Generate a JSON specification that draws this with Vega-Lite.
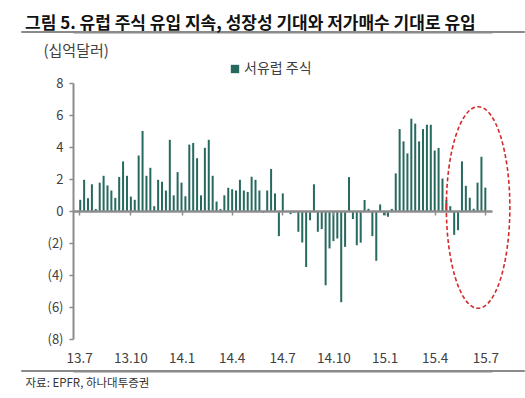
{
  "$schema": "https://vega.github.io/schema/vega-lite/v6.json",
  "autosize": "none",
  "width": 419,
  "height": 256,
  "padding": {"left": 73, "top": 83, "right": 33, "bottom": 59},
  "background": "white",
  "config": {
    "view": {"stroke": null},
    "font": "Noto Sans CJK KR",
    "axisY": {
      "tickCount": 8,
      "labelExpr": "datum.value < 0 ? '(' + abs(datum.value) + ')' : '' + datum.value",
      "labelOverlap": false,
      "grid": false,
      "domainColor": "#8c8c8c",
      "domainWidth": 2,
      "tickColor": "#8c8c8c",
      "tickSize": 4,
      "tickWidth": 1.5,
      "labelFontSize": 13,
      "labelColor": "#404040",
      "labelPadding": 6,
      "labelFont": "Noto Sans CJK KR",
      "titleAngle": 0,
      "titleX": -30,
      "titleY": -28,
      "titleAlign": "left",
      "titleBaseline": "alphabetic",
      "titleFontSize": 15,
      "titleFontWeight": "normal",
      "titleColor": "#404040",
      "titleFont": "Noto Sans CJK KR"
    }
  },
  "title": {
    "text": "그림 5. 유럽 주식 유입 지속, 성장성 기대와 저가매수 기대로 유입",
    "anchor": "start",
    "frame": "group",
    "dx": -48,
    "dy": 19,
    "offset": 4,
    "baseline": "alphabetic",
    "fontSize": 17,
    "fontWeight": "bold",
    "color": "#111111",
    "font": "Noto Sans CJK KR"
  },
  "resolve": {"axis": {"x": "independent"}},
  "layer": [
    {
      "data": {
        "values": [
          {"date": "2013-07-03", "value": 0.7},
          {"date": "2013-07-10", "value": 1.95},
          {"date": "2013-07-17", "value": 0.8},
          {"date": "2013-07-24", "value": 1.67},
          {"date": "2013-07-31", "value": 0.12},
          {"date": "2013-08-07", "value": 1.77},
          {"date": "2013-08-14", "value": 2.2},
          {"date": "2013-08-21", "value": 1.6},
          {"date": "2013-08-28", "value": 1.28},
          {"date": "2013-09-04", "value": 0.82},
          {"date": "2013-09-11", "value": 2.13},
          {"date": "2013-09-18", "value": 3.1},
          {"date": "2013-09-25", "value": 2.2},
          {"date": "2013-10-02", "value": 0.9},
          {"date": "2013-10-09", "value": 0.7},
          {"date": "2013-10-16", "value": 3.47},
          {"date": "2013-10-23", "value": 5.0},
          {"date": "2013-10-30", "value": 2.2},
          {"date": "2013-11-06", "value": 2.7},
          {"date": "2013-11-13", "value": 0.3},
          {"date": "2013-11-20", "value": 1.95},
          {"date": "2013-11-27", "value": 1.83},
          {"date": "2013-12-04", "value": 1.28},
          {"date": "2013-12-11", "value": 4.45},
          {"date": "2013-12-18", "value": 0.98},
          {"date": "2013-12-25", "value": 2.43},
          {"date": "2014-01-01", "value": 1.77},
          {"date": "2014-01-08", "value": 0.92},
          {"date": "2014-01-15", "value": 4.15},
          {"date": "2014-01-22", "value": 4.25},
          {"date": "2014-01-29", "value": 3.3},
          {"date": "2014-02-05", "value": 0.98},
          {"date": "2014-02-12", "value": 3.95},
          {"date": "2014-02-19", "value": 4.45},
          {"date": "2014-02-26", "value": 2.2},
          {"date": "2014-03-05", "value": 0.59},
          {"date": "2014-03-12", "value": 0.12},
          {"date": "2014-03-19", "value": 0.98},
          {"date": "2014-03-26", "value": 1.45},
          {"date": "2014-04-02", "value": 1.36},
          {"date": "2014-04-09", "value": 1.28},
          {"date": "2014-04-16", "value": 1.95},
          {"date": "2014-04-23", "value": 1.28},
          {"date": "2014-04-30", "value": 1.19},
          {"date": "2014-05-07", "value": 2.14},
          {"date": "2014-05-14", "value": 1.95},
          {"date": "2014-05-21", "value": 1.28},
          {"date": "2014-05-28", "value": -0.1},
          {"date": "2014-06-04", "value": 1.28},
          {"date": "2014-06-11", "value": 2.63},
          {"date": "2014-06-18", "value": 1.1},
          {"date": "2014-06-25", "value": -1.57},
          {"date": "2014-07-02", "value": 1.1},
          {"date": "2014-07-09", "value": -0.05},
          {"date": "2014-07-16", "value": -0.2},
          {"date": "2014-07-23", "value": -0.1},
          {"date": "2014-07-30", "value": -1.3},
          {"date": "2014-08-06", "value": -1.97},
          {"date": "2014-08-13", "value": -3.5},
          {"date": "2014-08-20", "value": -0.58},
          {"date": "2014-08-27", "value": 1.67},
          {"date": "2014-09-03", "value": -1.3},
          {"date": "2014-09-10", "value": -1.13},
          {"date": "2014-09-17", "value": -4.64},
          {"date": "2014-09-24", "value": -2.34},
          {"date": "2014-10-01", "value": -1.88},
          {"date": "2014-10-08", "value": -1.72},
          {"date": "2014-10-15", "value": -5.7},
          {"date": "2014-10-22", "value": -2.24},
          {"date": "2014-10-29", "value": 2.12},
          {"date": "2014-11-05", "value": -0.5},
          {"date": "2014-11-12", "value": -2.14},
          {"date": "2014-11-19", "value": -1.98},
          {"date": "2014-11-26", "value": 0.69},
          {"date": "2014-12-03", "value": 0.14},
          {"date": "2014-12-10", "value": -1.57},
          {"date": "2014-12-17", "value": -3.11},
          {"date": "2014-12-24", "value": 0.41},
          {"date": "2014-12-31", "value": -0.27},
          {"date": "2015-01-07", "value": -0.36},
          {"date": "2015-01-14", "value": 0.13},
          {"date": "2015-01-21", "value": 2.35},
          {"date": "2015-01-28", "value": 5.12},
          {"date": "2015-02-04", "value": 4.35},
          {"date": "2015-02-11", "value": 3.6},
          {"date": "2015-02-18", "value": 5.77},
          {"date": "2015-02-25", "value": 5.46},
          {"date": "2015-03-04", "value": 4.35},
          {"date": "2015-03-11", "value": 5.12},
          {"date": "2015-03-18", "value": 5.39},
          {"date": "2015-03-25", "value": 5.39},
          {"date": "2015-04-01", "value": 3.78},
          {"date": "2015-04-08", "value": 3.94},
          {"date": "2015-04-15", "value": 2.03},
          {"date": "2015-04-22", "value": 0.69},
          {"date": "2015-04-29", "value": 0.3},
          {"date": "2015-05-06", "value": -1.49},
          {"date": "2015-05-13", "value": -1.2},
          {"date": "2015-05-20", "value": 3.1},
          {"date": "2015-05-27", "value": 1.57},
          {"date": "2015-06-03", "value": 0.83},
          {"date": "2015-06-10", "value": 0.14},
          {"date": "2015-06-17", "value": 1.77},
          {"date": "2015-06-24", "value": 3.39},
          {"date": "2015-07-01", "value": 1.46}
        ]
      },
      "mark": {"type": "bar", "width": 2},
      "encoding": {
        "x": {
          "field": "date",
          "type": "temporal",
          "scale": {"domain": [{"year": 2013, "month": 6, "date": 29}, {"year": 2015, "month": 7, "date": 4}]},
          "axis": {
            "orient": "bottom",
            "offset": -128,
            "labels": false,
            "title": null,
            "grid": false,
            "domain": true,
            "domainColor": "#8c8c8c",
            "domainWidth": 2.5,
            "ticks": true,
            "tickColor": "#8c8c8c",
            "tickSize": 4,
            "tickWidth": 1.5,
            "zindex": 1,
            "values": [
              {"year": 2013, "month": 7, "date": 1},
              {"year": 2013, "month": 10, "date": 1},
              {"year": 2014, "month": 1, "date": 1},
              {"year": 2014, "month": 4, "date": 1},
              {"year": 2014, "month": 7, "date": 1},
              {"year": 2014, "month": 10, "date": 1},
              {"year": 2015, "month": 1, "date": 1},
              {"year": 2015, "month": 4, "date": 1},
              {"year": 2015, "month": 7, "date": 1}
            ]
          }
        },
        "y": {
          "field": "value",
          "type": "quantitative",
          "title": "(십억달러)",
          "scale": {"domain": [-8, 8], "nice": false, "zero": false}
        },
        "color": {
          "datum": "서유럽 주식",
          "type": "nominal",
          "scale": {"range": ["#26695e"]},
          "legend": {
            "orient": "none",
            "legendX": 155,
            "legendY": -21,
            "title": null,
            "symbolType": "square",
            "symbolSize": 70,
            "symbolStrokeWidth": 0,
            "labelFontSize": 14,
            "labelColor": "#404040",
            "labelOffset": 2,
            "labelFont": "Noto Sans CJK KR"
          }
        }
      }
    },
    {
      "data": {"values": [{}]},
      "mark": {
        "type": "point",
        "shape": "M -0.315 0 A 0.315 1 0 1 1 0.315 0 A 0.315 1 0 1 1 -0.315 0 Z",
        "size": 40643,
        "filled": false,
        "stroke": "#d42a2a",
        "strokeWidth": 1.6,
        "strokeDash": [4, 2.5],
        "opacity": 1
      },
      "encoding": {
        "x": {
          "datum": {"year": 2015, "month": 6, "date": 18},
          "type": "temporal",
          "axis": {
            "orient": "bottom",
            "domain": false,
            "ticks": false,
            "grid": false,
            "labels": true,
            "labelPadding": 12,
            "labelFontSize": 13.5,
            "labelColor": "#404040",
            "labelFont": "Noto Sans CJK KR",
            "format": "%y.%-m",
            "values": [
              {"year": 2013, "month": 7, "date": 1},
              {"year": 2013, "month": 10, "date": 1},
              {"year": 2014, "month": 1, "date": 1},
              {"year": 2014, "month": 4, "date": 1},
              {"year": 2014, "month": 7, "date": 1},
              {"year": 2014, "month": 10, "date": 1},
              {"year": 2015, "month": 1, "date": 1},
              {"year": 2015, "month": 4, "date": 1},
              {"year": 2015, "month": 7, "date": 1}
            ],
            "title": "자료: EPFR, 하나대투증권",
            "titleX": -48,
            "titleY": 47,
            "titleAnchor": "start",
            "titleAlign": "left",
            "titleBaseline": "alphabetic",
            "titleFontSize": 11.5,
            "titleFontWeight": "normal",
            "titleColor": "#333333",
            "titleFont": "Noto Sans CJK KR"
          }
        },
        "y": {"datum": 0.22, "type": "quantitative"}
      }
    },
    {
      "data": {"values": [{}]},
      "mark": {"type": "rule", "stroke": "#8a8a8a", "color": "#8a8a8a", "strokeWidth": 2, "strokeOpacity": 1, "clip": false},
      "encoding": {
        "x": {
          "datum": {"year": 2013, "month": 3, "date": 19},
          "type": "temporal",
          "axis": {
            "orient": "top",
            "offset": 51,
            "domain": true,
            "domainColor": "#8a8a8a",
            "domainWidth": 2,
            "labels": false,
            "ticks": false,
            "grid": false,
            "title": null
          }
        },
        "x2": {"datum": {"year": 2015, "month": 9, "date": 10}},
        "y": {"datum": 11.19, "type": "quantitative"}
      }
    },
    {
      "data": {"values": [{}]},
      "mark": {"type": "rule", "stroke": "#8a8a8a", "color": "#8a8a8a", "strokeWidth": 2, "strokeOpacity": 1, "clip": false},
      "encoding": {
        "x": {
          "datum": {"year": 2013, "month": 3, "date": 19},
          "type": "temporal",
          "axis": {
            "orient": "bottom",
            "offset": 32,
            "domain": true,
            "domainColor": "#8a8a8a",
            "domainWidth": 2,
            "labels": false,
            "ticks": false,
            "grid": false,
            "title": null
          }
        },
        "x2": {"datum": {"year": 2015, "month": 9, "date": 10}},
        "y": {"datum": -10.0, "type": "quantitative"}
      }
    }
  ]
}
